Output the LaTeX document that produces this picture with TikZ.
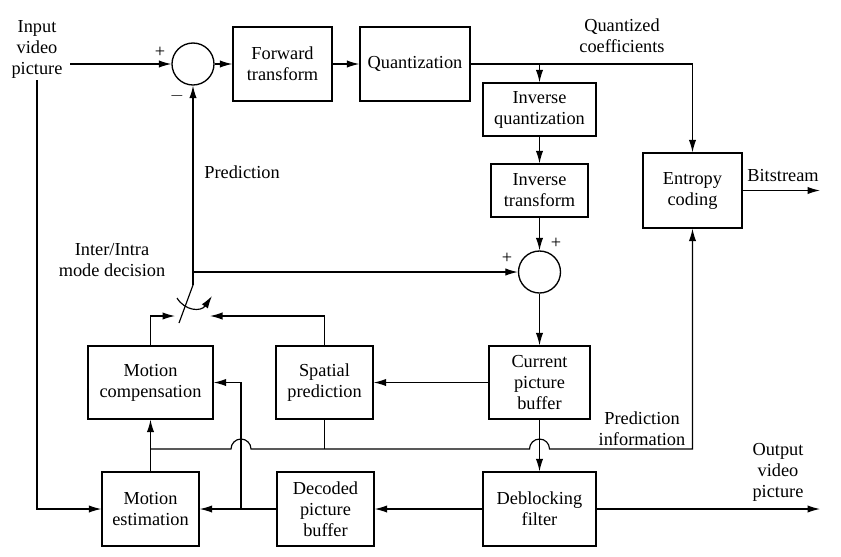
\documentclass[tikz,border=0pt]{standalone}
\usepackage{fontspec}
\setmainfont{Liberation Serif}
\usepackage{tikz}
\usetikzlibrary{positioning}
\usetikzlibrary{arrows.meta}
\pgfdeclarelayer{nodelayer}
\pgfdeclarelayer{edgelayer}
\pgfsetlayers{nodelayer,edgelayer,main}
\tikzset{
    blk/.style = {draw, line width=0.8pt, align=center, inner sep=1pt},
    sum/.style = {draw, circle, line width=0.8pt, minimum size=25.2pt, inner sep=0pt},
    txt/.style = {align=center, inner sep=0pt},
    wire/.style = {line width=0.7pt},
    sig/.style = {line width=0.7pt, -{Latex[length=7.5pt,width=4.4pt]}}
}
\begin{document}
\begin{tikzpicture}[x=0.6pt, y=-0.6pt, font=\fontsize{11}{12.6}\selectfont]
  \useasboundingbox (0,0) rectangle (841,556);
  \begin{pgfonlayer}{nodelayer}
    \node [txt] (inp) at (37,49) {Input\\video\\picture};
    \node [sum] (s1) at (193,64) {};
    \node [blk, minimum width=59.4pt, minimum height=44.4pt] (fwd) at (282.5,64) {Forward\\transform};
    \node [blk, minimum width=66pt, minimum height=44.4pt] (qnt) at (415,64) {Quantization};
    \node [blk, minimum width=67.8pt, minimum height=31.8pt] (iqnt) at (539.5,109.5) {Inverse\\quantization};
    \node [blk, minimum width=58.2pt, minimum height=31.8pt] (itr) at (539.5,190.5) {Inverse\\transform};
    \node [blk, minimum width=59.4pt, minimum height=45pt] (ent) at (692.5,190.5) {Entropy\\coding};
    \node [sum] (s2) at (539.5,272) {};
    \node [blk, minimum width=60.6pt, minimum height=43.8pt] (cpb) at (539.5,382.5) {Current\\picture\\buffer};
    \node [blk, minimum width=67.8pt, minimum height=44.4pt] (dbf) at (539.5,509) {Deblocking\\filter};
    \node [blk, minimum width=75pt, minimum height=43.8pt] (mc) at (150.5,382.5) {Motion\\compensation};
    \node [blk, minimum width=58.2pt, minimum height=43.8pt] (sp) at (324.5,382.5) {Spatial\\prediction};
    \node [blk, minimum width=58.2pt, minimum height=44.4pt] (me) at (150.5,509) {Motion\\estimation};
    \node [blk, minimum width=58.2pt, minimum height=44.4pt] (dpb) at (325.5,509) {Decoded\\picture\\buffer};
    % labels
    \node [txt] (qc) at (622,36) {Quantized\\coefficients};
    \node [txt] (bits) at (783,176) {Bitstream};
    \node [txt] (pred) at (242,172) {Prediction};
    \node [txt] (mode) at (112,260) {Inter/Intra\\mode decision};
    \node [txt] (pinf) at (642,429) {Prediction\\information};
    \node [txt] (outp) at (778,472) {Output\\video\\picture};
    \node [txt] (p1) at (160,52) {+};
    \node [txt] (m1) at (177,96) {$-$};
    \node [txt] (p2) at (556,243) {+};
    \node [txt] (p3) at (507,258) {+};
    % free ends and corners
    \coordinate (inpE) at (70,64);
    \coordinate (inpS) at (37,80);
    \coordinate (qsplit) at (539.5,64);
    \coordinate (bitsE) at (820,190.5);
    \coordinate (outE) at (820,509);
    \coordinate (swT) at (193,285);
    \coordinate (swB) at (179,323);
    \coordinate (swL) at (175,316);
    \coordinate (swR) at (210,316);
    \coordinate (cvL) at (177,298);
    \coordinate (cvR) at (212,296);
    \coordinate (predJ) at (193,272);
    \coordinate (dpbJ) at (241,509);
    \coordinate (infL) at (150.5,449);
    \coordinate (hop1) at (231,449);
    \coordinate (hop2) at (529.5,449);
  \end{pgfonlayer}
  \begin{pgfonlayer}{edgelayer}
    \draw [sig] (inpE) -- (s1.west);
    \draw [sig] (inpS) |- (me.west);
    \draw [sig] (s1.east) -- (fwd.west);
    \draw [sig] (fwd) -- (qnt);
    \draw [sig] (qnt.east) -| (ent.north);
    \draw [sig] (qsplit) -- (iqnt.north);
    \draw [sig] (iqnt) -- (itr);
    \draw [sig] (itr) -- (s2);
    \draw [sig] (s2) -- (cpb);
    \draw [sig] (cpb) -- (dbf);
    \draw [sig] (ent.east) -- (bitsE);
    \draw [sig] (dbf.east) -- (outE);
    \draw [sig] (dbf) -- (dpb);
    \draw [sig] (dpb) -- (me);
    \draw [sig] (dpbJ) |- (mc.east);
    \draw [sig] (cpb) -- (sp);
    \draw [sig] (me) -- (mc);
    \draw [wire] (sp.south) -- (sp.south |- infL);
    \draw [sig] (infL) -- (hop1) arc [start angle=180, end angle=0, radius=6pt]
      -- (hop2) arc [start angle=180, end angle=0, radius=6pt] -| (ent.south);
    % mode switch
    \draw [sig] (swT) -- (s1.south);
    \draw [wire] (swB) -- (swT);
    \draw [sig] (predJ) -- (s2.west);
    \draw [sig] (mc.north) |- (swL);
    \draw [sig] (sp.north) |- (swR);
    \draw [sig] (cvL) .. controls (185,311) and (201,312) .. (cvR);
  \end{pgfonlayer}
\end{tikzpicture}
\end{document}
